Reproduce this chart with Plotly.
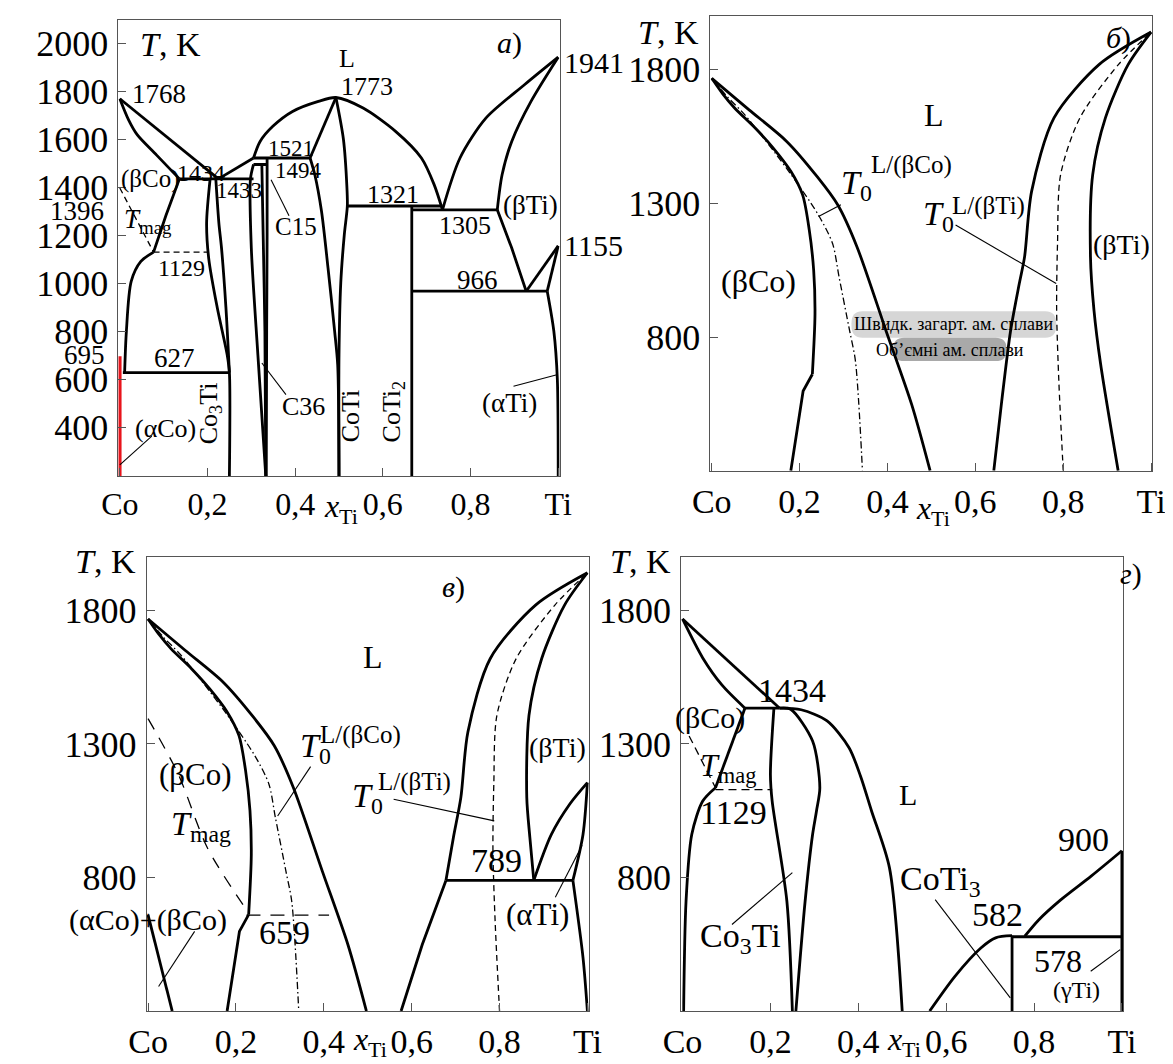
import plotly.graph_objects as go

FONT = "Liberation Serif"

# ---------------- Panel а) : full Co–Ti diagram ----------------
A_LIQ_CO = ([0.0, 0.225], [1768, 1434])
A_SOL_CO = ([0.0, 0.02, 0.04, 0.084, 0.136], [1768, 1680, 1617, 1533, 1434])
A_1434 = ([0.136, 0.305], [1434, 1434])
A_SOLV_BCO = ([0.136, 0.105, 0.077], [1434, 1280, 1129])
A_BCO_LOW = ([0.077, 0.048, 0.026, 0.015, 0.011], [1129, 1090, 1007, 799, 627])
A_1129 = ([0.077, 0.2], [1129, 1129])
A_TMAG = ([0.0, 0.077], [1396, 1129])
A_627 = ([0.007, 0.25], [627, 627])
A_RED = ([0.0, 0.0], [196, 695])
A_CO3TI_L = ([0.206, 0.198, 0.203, 0.222, 0.245, 0.25, 0.25], [1434, 1250, 1100, 900, 700, 627, 196])
A_CO3TI_R = ([0.219, 0.226, 0.232, 0.242, 0.25], [1434, 1250, 1146, 900, 627])
A_C_L = ([0.305, 0.298, 0.300, 0.315, 0.333], [1494, 1433, 1146, 700, 196])
A_C_M = ([0.324, 0.327, 0.331, 0.333], [1494, 1200, 800, 196])
A_C_R = ([0.336, 0.336, 0.335, 0.334], [1521, 1200, 800, 196])
A_1521 = ([0.305, 0.434], [1521, 1521])
A_1494 = ([0.305, 0.336], [1494, 1494])
A_LIQ_RISE = ([0.225, 0.305], [1434, 1521])
A_DOME = ([0.305, 0.32, 0.349, 0.394, 0.453, 0.493, 0.555, 0.629, 0.688, 0.717, 0.736],
          [1521, 1590, 1653, 1715, 1757, 1773, 1729, 1632, 1521, 1410, 1305])
A_COTI_L1 = ([0.493, 0.434], [1773, 1521])
A_COTI_L2 = ([0.434, 0.445, 0.46, 0.475, 0.49, 0.497, 0.5], [1521, 1450, 1300, 1062, 800, 660, 196])
A_COTI_R = ([0.493, 0.51, 0.518, 0.519, 0.512, 0.504, 0.5, 0.5], [1773, 1600, 1400, 1321, 1200, 1000, 700, 196])
A_1321 = ([0.519, 0.736], [1321, 1321])
A_COTI2 = ([0.666, 0.666], [1321, 196])
A_1305 = ([0.666, 0.861], [1305, 1305])
A_LIQ_TI = ([0.736, 0.776, 0.835, 0.923, 1.0], [1305, 1521, 1687, 1826, 1941])
A_SOL_TI = ([0.861, 0.872, 0.894, 0.938, 1.0], [1305, 1451, 1590, 1757, 1941])
A_BTI_SOLV = ([0.861, 0.894, 0.927], [1305, 1146, 966])
A_AB1 = ([0.927, 1.0], [966, 1155])
A_AB2 = ([0.975, 1.0], [966, 1155])
A_966 = ([0.666, 0.975], [966, 966])
A_ATI = ([0.975, 0.99, 0.998, 1.0], [966, 800, 600, 196])

# ---------------- Panels б) and в) : metastable diagrams ----------------
LIQ_BCO = ([0.0, 0.085, 0.17, 0.24, 0.287, 0.33, 0.397, 0.455, 0.497],
           [1768, 1650, 1533, 1400, 1294, 1140, 822, 548, 300])
SOL_BCO = ([0.0, 0.025, 0.052, 0.1, 0.14, 0.18, 0.207, 0.222, 0.232, 0.235, 0.229],
           [1768, 1710, 1657, 1580, 1507, 1420, 1331, 1200, 1050, 885, 661])
SOL_BCO_LOW = ([0.229, 0.208, 0.18], [661, 598, 300])
T0_BCO = ([0.0, 0.035, 0.075, 0.17, 0.243, 0.275, 0.29, 0.314, 0.327, 0.343],
          [1768, 1700, 1632, 1432, 1256, 1150, 1023, 822, 711, 300])
B_LIQ_BTI = ([0.642, 0.66, 0.68, 0.70, 0.712, 0.728, 0.779, 0.882, 1.0],
             [300, 560, 822, 1000, 1100, 1345, 1620, 1820, 1941])
T0_BTI = ([0.8, 0.79, 0.785, 0.787, 0.794, 0.838, 0.926, 1.0],
          [300, 635, 900, 1150, 1407, 1620, 1820, 1941])
B_SOL_BTI = ([0.925, 0.885, 0.87, 0.862, 0.867, 0.896, 0.948, 1.0],
             [300, 700, 900, 1100, 1407, 1620, 1820, 1941])

V_LIQ_BTI = ([0.678, 0.695, 0.712, 0.728, 0.779, 0.882, 1.0], [789, 950, 1100, 1345, 1620, 1820, 1941])
V_LIQ_LOW = ([0.678, 0.624, 0.576], [789, 548, 300])
V_SOL_BTI = ([0.878, 0.869, 0.862, 0.867, 0.896, 0.948, 1.0], [789, 950, 1100, 1407, 1620, 1820, 1941])
V_AB1 = ([0.878, 0.918, 0.96, 1.0], [789, 961, 1075, 1155])
V_AB2 = ([0.967, 0.99, 1.0], [789, 961, 1155])
V_ATI = ([0.967, 0.99, 1.0], [789, 500, 300])
V_789 = ([0.678, 0.967], [789, 789])
V_ACO = ([0.0, 0.055], [660, 300])
V_TMAG = ([0.0, 0.069, 0.135, 0.216], [1395, 1186, 911, 698])
V_659 = ([0.224, 0.412], [659, 659])

# ---------------- Panel г) ----------------
G_LIQ = ([0.0, 0.221], [1768, 1434])
G_SOL = ([0.0, 0.046, 0.09, 0.142], [1768, 1622, 1520, 1434])
G_1434 = ([0.142, 0.221], [1434, 1434])
G_SOLV = ([0.142, 0.075], [1434, 1136])
G_BCO_LOW = ([0.075, 0.046, 0.021, 0.008, 0.0025], [1136, 1086, 961, 711, 300])
G_1129 = ([0.075, 0.204], [1129, 1129])
G_TMAG = ([0.015, 0.075], [1330, 1136])
G_CO3TI_L = ([0.208, 0.2, 0.204, 0.2375, 0.25], [1434, 1186, 1086, 711, 300])
G_CO3TI_R = ([0.221, 0.246, 0.296, 0.3125, 0.305, 0.296, 0.279, 0.258], [1434, 1430, 1311, 1136, 1050, 961, 711, 300])
G_DOME = ([0.221, 0.27, 0.329, 0.379, 0.405, 0.43, 0.471, 0.5], [1434, 1428, 1386, 1286, 1180, 1050, 836, 300])
G_RIGHT = ([0.5625, 0.62, 0.679, 0.7125, 0.75], [300, 430, 536, 574, 582])
G_COTI3 = ([0.75, 0.75], [582, 300])
G_578 = ([0.75, 1.0], [578, 578])
G_900 = ([0.779, 0.81, 0.86, 0.93, 1.0], [580, 640, 715, 805, 900])
G_TI = ([1.0, 1.0], [900, 300])

X_TICKS = [0, 0.2, 0.4, 0.6, 0.8, 1]
X_TEXT = ["Co", "0,2", "0,4", "0,6", "0,8", "Ti"]
A_YTICKS = [400, 600, 800, 1000, 1200, 1400, 1600, 1800, 2000]
B_YTICKS = [800, 1300, 1800]

W, H = 1173, 1064
XR = [-0.003, 1.003]
# panel frames in pixels: (x0, x1, y_top, y_bottom, y-range)
PANEL = {
    "a": (95, 548, 12, 468, [196, 2096]),
    "b": (703, 1157, 8.3, 462.7, [300, 2000]),
    "v": (124, 578, 549, 1003, [300, 2000]),
    "g": (673, 1127, 549, 1003, [300, 2000]),
}
AX = {"a": ("x", "y"), "b": ("x2", "y2"), "v": ("x3", "y3"), "g": ("x4", "y4")}

fig = go.Figure()


def to_px(p, x, t):
    x0, x1, yt, yb, yr = PANEL[p]
    xp = x0 + (x - XR[0]) / (XR[1] - XR[0]) * (x1 - x0)
    yp = yb - (t - yr[0]) / (yr[1] - yr[0]) * (yb - yt)
    return xp, yp


def curve(p, xy, w=2.8, dash="solid", color="black", spline=True):
    xa, ya = AX[p]
    fig.add_trace(go.Scatter(
        x=xy[0], y=xy[1], xaxis=xa, yaxis=ya, mode="lines",
        line=dict(color=color, width=w, dash=dash,
                  shape="spline" if spline else "linear", smoothing=0.8),
        hoverinfo="skip", showlegend=False))


def text_px(xp, yp, text, size, xanchor="center", yanchor="middle", angle=0):
    fig.add_annotation(x=xp / W, y=1 - yp / H, xref="paper", yref="paper", text=text,
                       showarrow=False, borderpad=0,
                       font=dict(family=FONT, size=size, color="black"),
                       xanchor=xanchor, yanchor=yanchor, textangle=angle)


def label(p, x, t, text, size=26, xanchor="center", yanchor="middle", angle=0):
    xp, yp = to_px(p, x, t)
    text_px(xp, yp, text, size, xanchor, yanchor, angle)


def leader(p, x0, t0, x1, t1):
    curve(p, ([x0, x1], [t0, t1]), w=1.1, spline=False)


# ---- panel а curves
for c in [A_LIQ_CO, A_1434, A_SOLV_BCO, A_627, A_1521, A_1494, A_LIQ_RISE, A_COTI_L1,
          A_1321, A_COTI2, A_1305, A_BTI_SOLV, A_AB1, A_AB2, A_966]:
    curve("a", c, spline=False)
for c in [A_SOL_CO, A_BCO_LOW, A_CO3TI_L, A_CO3TI_R, A_C_L, A_C_M, A_C_R, A_DOME,
          A_COTI_L2, A_COTI_R, A_LIQ_TI, A_SOL_TI, A_ATI]:
    curve("a", c)
curve("a", A_1129, w=1.3, dash="6px,4px", spline=False)
curve("a", A_TMAG, w=1.3, dash="6px,4px", spline=False)
curve("a", A_RED, w=3.5, color="#e8141c", spline=False)
leader("a", 0.386, 1280, 0.345, 1430)
leader("a", 0.379, 535, 0.324, 667)
leader("a", 0.073, 362, 0.0, 242)
leader("a", 0.898, 570, 0.997, 618)

# ---- panels б, в shared curves
for p in ["b", "v"]:
    curve(p, LIQ_BCO)
    curve(p, SOL_BCO)
    curve(p, SOL_BCO_LOW, spline=False)
    curve(p, T0_BCO, w=1.3, dash="7px,3px,1.5px,3px")
    curve(p, T0_BTI, w=1.3, dash="6px,4px")
curve("b", B_LIQ_BTI)
curve("b", B_SOL_BTI)
leader("b", 0.294, 1295, 0.243, 1251)
leader("b", 0.555, 1219, 0.784, 1000)

# ---- panel в curves
curve("v", V_LIQ_BTI)
curve("v", V_LIQ_LOW, spline=False)
curve("v", V_SOL_BTI)
curve("v", V_AB1)
curve("v", V_AB2)
curve("v", V_ATI)
curve("v", V_789, spline=False)
curve("v", V_ACO, spline=False)
curve("v", V_TMAG, w=1.3, dash="12px,10px")
curve("v", V_659, w=1.3, dash="14px,10px", spline=False)
leader("v", 0.106, 598, 0.024, 392)
leader("v", 0.37, 1215, 0.295, 1030)
leader("v", 0.559, 1093, 0.788, 1012)
leader("v", 0.927, 726, 0.988, 921)

# ---- panel г curves
for c in [G_LIQ, G_1434, G_SOLV, G_COTI3, G_578, G_TI]:
    curve("g", c, spline=False)
for c in [G_SOL, G_BCO_LOW, G_CO3TI_L, G_CO3TI_R, G_DOME, G_RIGHT, G_900]:
    curve("g", c)
curve("g", G_1129, w=1.3, dash="8px,5px", spline=False)
curve("g", G_TMAG, w=1.3, dash="8px,5px", spline=False)
leader("g", 0.1125, 624, 0.25, 818)
leader("g", 0.575, 717, 0.746, 349)
leader("g", 0.929, 449, 0.996, 530)


# ---- gray boxes in panel б (drawn below the curves)
def pill(x0, x1, t0, t1, rx, rt):
    return (f"M {x0 + rx},{t0} L {x1 - rx},{t0} Q {x1},{t0} {x1},{t0 + rt} "
            f"L {x1},{t1 - rt} Q {x1},{t1} {x1 - rx},{t1} L {x0 + rx},{t1} "
            f"Q {x0},{t1} {x0},{t1 - rt} L {x0},{t0 + rt} Q {x0},{t0} {x0 + rx},{t0} Z")


fig.add_shape(type="path", path=pill(0.318, 0.784, 797, 897, 0.025, 45), xref="x2", yref="y2",
              fillcolor="#d6d6d6", line=dict(width=0), layer="below")
fig.add_shape(type="path", path=pill(0.413, 0.671, 710, 797, 0.025, 40), xref="x2", yref="y2",
              fillcolor="#a9a9a9", line=dict(width=0), layer="below")

# ---- panel а labels
label("a", 0.115, 1992, "<i>T</i>, K", 34)
label("a", 0.889, 2000, "<i>а</i>)", 30)
label("a", 0.519, 1937, "L", 26)
label("a", 0.563, 1821, "1773", 26)
label("a", 0.026, 1787, "1768", 27, xanchor="left")
label("a", 0.39, 1562, "1521", 23)
label("a", 0.408, 1467, "1494", 23)
label("a", 0.07, 1433, "(βCo)", 25)
label("a", 0.185, 1458, "1434", 24)
label("a", 0.272, 1387, "1433", 23)
label("a", -0.097, 1300, "1396", 27)
label("a", 0.007, 1258, "<i>T</i><sub>mag</sub>", 27, xanchor="left")
label("a", 0.402, 1237, "C15", 25)
label("a", 0.141, 1062, "1129", 24)
label("a", 0.124, 687, "627", 27)
label("a", -0.081, 700, "695", 27)
label("a", 0.104, 396, "(αCo)", 26)
label("a", 0.206, 458, "Co<sub>3</sub>Ti", 26, angle=-90)
label("a", 0.42, 487, "C36", 26)
label("a", 0.528, 446, "CoTi", 26, angle=-90)
label("a", 0.622, 467, "CoTi<sub>2</sub>", 26, angle=-90)
label("a", 0.623, 1367, "1321", 26)
label("a", 0.788, 1238, "1305", 26)
label("a", 0.936, 1325, "(βTi)", 27)
label("a", 1.011, 1917, "1941", 30, xanchor="left")
label("a", 1.011, 1158, "1155", 30, xanchor="left")
label("a", 0.817, 1012, "966", 27)
label("a", 0.89, 500, "(αTi)", 27)

# ---- panel б labels
label("b", -0.099, 1939, "<i>T</i>, K", 34)
label("b", 0.925, 1920, "<i>б</i>)", 30)
label("b", 0.507, 1631, "L", 32)
label("b", 0.293, 1369, "<i>T</i><sub>0</sub>", 34, xanchor="left")
label("b", 0.361, 1444, "L/(βCo)", 25, xanchor="left")
label("b", 0.478, 1252, "<i>T</i><sub>0</sub>", 34, xanchor="left")
label("b", 0.544, 1290, "L/(βTi)", 25, xanchor="left")
label("b", 0.106, 1010, "(βCo)", 32)
label("b", 0.933, 1145, "(βTi)", 28)
label("b", 0.551, 847, "Швидк. загарт. ам. сплави", 18)
label("b", 0.542, 753, "Об’ємні ам. сплави", 18)

# ---- panel в labels
label("v", -0.097, 1985, "<i>T</i>, K", 34)
label("v", 0.696, 1886, "<i>в</i>)", 30)
label("v", 0.513, 1624, "L", 32)
label("v", 0.344, 1286, "<i>T</i><sub>0</sub>", 34, xanchor="left")
label("v", 0.388, 1335, "L/(βCo)", 25, xanchor="left")
label("v", 0.461, 1099, "<i>T</i><sub>0</sub>", 34, xanchor="left")
label("v", 0.522, 1159, "L/(βTi)", 25, xanchor="left")
label("v", 0.931, 1286, "(βTi)", 28)
label("v", 0.109, 1186, "(βCo)", 31)
label("v", 0.12, 994, "<i>T</i><sub>mag</sub>", 34)
label("v", 0.0, 642, "(αCo)+(βCo)", 30)
label("v", 0.31, 593, "659", 34)
label("v", 0.792, 863, "789", 34)
label("v", 0.886, 661, "(αTi)", 31)

# ---- panel г labels
label("g", -0.096, 1985, "<i>T</i>, K", 34)
label("g", 1.02, 1936, "<i>г</i>)", 30)
label("g", 0.25, 1499, "1434", 34)
label("g", 0.0625, 1399, "(βCo)", 30)
label("g", 0.104, 1211, "<i>T</i><sub>mag</sub>", 32)
label("g", 0.117, 1043, "1129", 34)
label("g", 0.5125, 1111, "L", 30)
label("g", 0.9125, 942, "900", 34)
label("g", 0.5875, 788, "CoTi<sub>3</sub>", 34)
label("g", 0.717, 661, "582", 34)
label("g", 0.854, 486, "578", 32)
label("g", 0.896, 380, "(γTi)", 24)
label("g", 0.133, 574, "Co<sub>3</sub>Ti", 34)

# ---- x_Ti axis titles: italic x plus a lowered "Ti", placed between 0,4 and 0,6
for p, ymid in [("a", 498), ("b", 500), ("v", 1031), ("g", 1031)]:
    xc, _ = to_px(p, 0.5, 1000)
    text_px(xc + 1, ymid, "<i>x</i>", 32, xanchor="right")
    text_px(xc - 1, ymid + 10, "Ti", 22, xanchor="left")

# ---- axes
specs = [("", "a", A_YTICKS, 36, 32), ("2", "b", B_YTICKS, 36, 34),
         ("3", "v", B_YTICKS, 36, 34), ("4", "g", B_YTICKS, 36, 34)]
for sx, p, ytv, yfs, xfs in specs:
    x0, x1, yt, yb, yr = PANEL[p]
    fig.layout["xaxis" + sx] = dict(
        domain=[x0 / W, x1 / W], range=XR, anchor="y" + sx,
        tickvals=X_TICKS, ticktext=X_TEXT, ticks="inside", ticklen=8, tickcolor="#555",
        showline=True, mirror=True, linecolor="#555", linewidth=1,
        showgrid=False, zeroline=False, fixedrange=True,
        tickfont=dict(family=FONT, size=xfs, color="black"))
    fig.layout["yaxis" + sx] = dict(
        domain=[1 - yb / H, 1 - yt / H], range=yr, anchor="x" + sx,
        tickvals=ytv, ticks="inside", ticklen=8, tickcolor="#555",
        showline=True, mirror=True, linecolor="#555", linewidth=1,
        showgrid=False, zeroline=False, fixedrange=True, ticklabelstandoff=2,
        tickfont=dict(family=FONT, size=yfs, color="black"))

fig.update_layout(width=W, height=H, margin=dict(l=0, r=0, t=0, b=0),
                  plot_bgcolor="white", paper_bgcolor="white", showlegend=False)

fig.write_html("out.html")
